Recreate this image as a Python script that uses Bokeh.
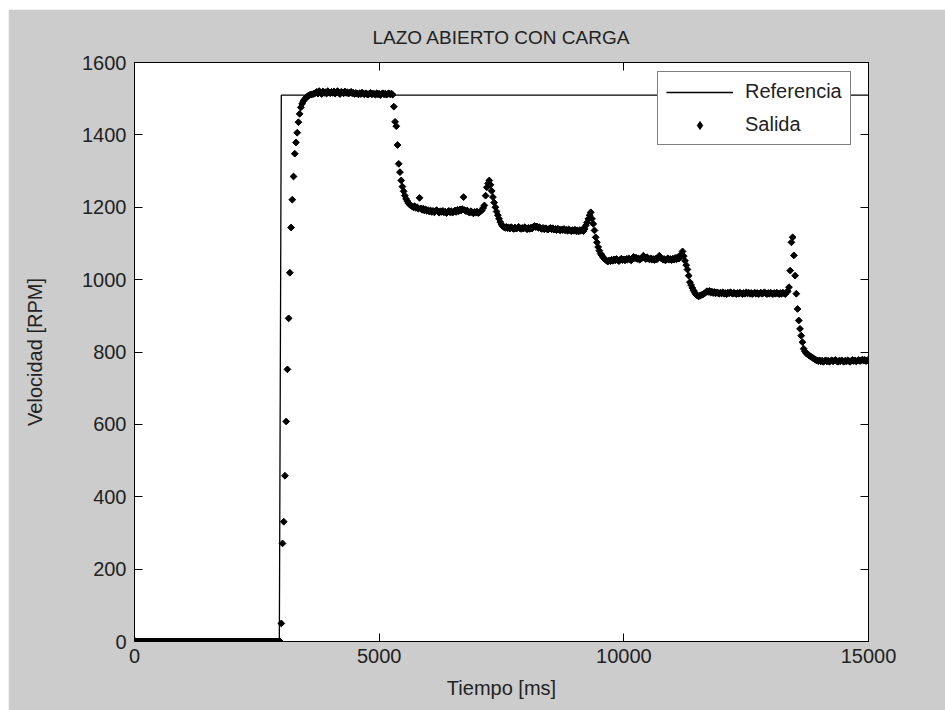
import numpy as np
from bokeh.plotting import figure
from bokeh.models import Range1d, LinearAxis, FixedTicker, Legend, LegendItem
from bokeh.embed import file_html
from bokeh.resources import INLINE

# ---------------- data ----------------
title_text = "LAZO ABIERTO CON CARGA"
x_label = "Tiempo [ms]"
y_label = "Velocidad [RPM]"
x_ticks = [0, 5000, 10000, 15000]
y_ticks = [0, 200, 400, 600, 800, 1000, 1200, 1400, 1600]

# Referencia (step)
ref_t = [0, 2960, 3000, 15000]
ref_rpm = [0, 0, 1510, 1510]

# Salida: measured speed, one sample every 25 ms, given per segment (start ms, values)
sample_ms = 25

out_reposo_start = 0
out_reposo = [
    0, 0, 0, 0, 0, 0, 0, 0, 0, 0,
    0, 0, 0, 0, 0, 0, 0, 0, 0, 0,
    0, 0, 0, 0, 0, 0, 0, 0, 0, 0,
    0, 0, 0, 0, 0, 0, 0, 0, 0, 0,
    0, 0, 0, 0, 0, 0, 0, 0, 0, 0,
    0, 0, 0, 0, 0, 0, 0, 0, 0, 0,
    0, 0, 0, 0, 0, 0, 0, 0, 0, 0,
    0, 0, 0, 0, 0, 0, 0, 0, 0, 0,
    0, 0, 0, 0, 0, 0, 0, 0, 0, 0,
    0, 0, 0, 0, 0, 0, 0, 0, 0, 0,
    0, 0, 0, 0, 0, 0, 0, 0, 0, 0,
    0, 0, 0, 0, 0, 0, 0, 0, 0, 0,
]

out_arranque_start = 3000
out_arranque = [
    50, 271, 331, 458, 608, 752, 893, 1019, 1144, 1221,
    1285, 1348, 1379, 1406, 1435, 1458, 1476, 1486, 1493, 1498,
    1502, 1505, 1508, 1510, 1511, 1512, 1513, 1514,
]

out_meseta_start = 3700
out_meseta = [
    1516, 1519, 1514, 1521, 1517, 1513, 1520, 1516,
    1518, 1514, 1521, 1517, 1515, 1519, 1516, 1520,
    1514, 1518, 1521, 1516, 1513, 1519, 1517, 1515,
    1520, 1516, 1518, 1514, 1517, 1519, 1515, 1516,
    1513, 1516, 1514, 1512, 1515, 1513, 1517, 1514,
    1512, 1515, 1513, 1511, 1514, 1516, 1512, 1514,
    1513, 1511, 1515, 1512, 1514, 1510, 1513, 1515,
    1512, 1514, 1511, 1513, 1515, 1512, 1514, 1511,
]

out_carga1_start = 5300
out_carga1 = [
    1478, 1436, 1424, 1372, 1320, 1297, 1274, 1257, 1244, 1232,
    1223, 1217, 1211, 1207, 1205, 1202, 1200, 1203, 1198, 1200,
    1196, 1226, 1197, 1193, 1196, 1191, 1194, 1190, 1192, 1188,
    1191, 1187, 1190, 1186, 1189, 1192, 1188, 1185, 1189, 1187,
    1190, 1186, 1188, 1184, 1187, 1190, 1186, 1189, 1185, 1188,
    1191, 1187, 1193, 1189, 1194, 1191, 1195, 1228, 1192, 1189,
    1191, 1187, 1185, 1189, 1186, 1183, 1187, 1185, 1188, 1184,
    1186, 1189, 1192, 1198,
]

out_carga2_start = 7150
out_carga2 = [
    1205, 1232, 1255, 1266, 1274, 1262, 1245, 1228, 1213, 1200,
    1188, 1178, 1168, 1159, 1152, 1148, 1145, 1143, 1146, 1142,
    1144, 1141, 1145, 1142, 1140, 1144, 1141, 1143, 1146, 1142,
    1140, 1143, 1141, 1145, 1142, 1139, 1143, 1140, 1144, 1141,
    1146, 1148, 1145, 1147, 1143, 1145, 1142, 1140, 1143, 1139,
    1142, 1140, 1138, 1141, 1143, 1139, 1142, 1138, 1140, 1137,
    1141, 1138, 1136, 1139, 1137, 1140, 1136, 1138, 1135, 1139,
    1136, 1134, 1137, 1135, 1138, 1134, 1136, 1133, 1137, 1135,
    1138, 1134,
]

out_carga3_start = 9200
out_carga3 = [
    1140, 1150, 1158, 1168, 1178, 1186, 1168, 1154, 1136, 1117,
    1103, 1090, 1080, 1072, 1067, 1062, 1058, 1055, 1052, 1050,
    1053, 1051, 1055, 1052, 1056, 1053, 1057, 1054, 1051, 1055,
    1058, 1054, 1056, 1053, 1057, 1055, 1059, 1056, 1053, 1057,
    1063, 1059, 1061, 1057, 1059, 1055, 1058, 1060, 1066, 1060,
    1057, 1062, 1058, 1056, 1059, 1055, 1057, 1054, 1058, 1056,
    1060, 1066, 1061, 1058, 1055, 1057, 1053, 1056, 1059, 1055,
    1057, 1054, 1058, 1055, 1060, 1056, 1062, 1058, 1064,
]

out_carga4_start = 11175
out_carga4 = [
    1070, 1078, 1065, 1052, 1040, 1028, 1011, 993, 985, 977,
    970, 964, 959, 956, 954, 955, 957, 958, 960, 962,
    965, 968, 966, 969, 964, 967, 963, 966, 962, 965,
    963, 961, 964, 962, 965, 961, 963, 960, 964, 962,
    965, 963, 961, 964, 962, 960, 963, 961, 964, 962,
    960, 963, 961, 965, 962, 964, 961, 963, 960, 962,
    964, 961, 963, 960, 962, 964, 961, 963, 965, 962,
    960, 963, 961, 964, 962, 960, 963, 961, 964, 962,
    960, 963, 961, 964, 962, 960, 965, 968,
]

out_carga5_start = 13375
out_carga5 = [
    979, 1025, 1103, 1117, 1067, 1011, 961, 919, 887, 864,
    845, 827, 809, 802, 797, 794, 791, 789, 787, 785,
    782, 780, 778, 776, 775, 777, 774, 776, 773, 775,
    777, 774, 776, 773, 775, 777, 774, 776, 778, 775,
    773, 776, 774, 777, 775, 773, 776, 774, 777, 775,
    773, 776, 778, 775, 777, 774, 776, 778, 775, 777,
    779, 776, 778, 775, 777, 779,
]

segments = [
    (out_reposo_start, out_reposo),
    (out_arranque_start, out_arranque),
    (out_meseta_start, out_meseta),
    (out_carga1_start, out_carga1),
    (out_carga2_start, out_carga2),
    (out_carga3_start, out_carga3),
    (out_carga4_start, out_carga4),
    (out_carga5_start, out_carga5),
]
out_t = []
out_rpm = []
for start, vals in segments:
    out_t.extend(start + sample_ms * k for k in range(len(vals)))
    out_rpm.extend(vals)

# ---------------- figure ----------------
FONT = "Liberation Sans"
TXT = "#222222"
GREY = "#cccccc"

p = figure(
    width=937, height=701,
    x_range=Range1d(0, 15000), y_range=Range1d(0, 1600),
    output_backend="svg", toolbar_location=None,
    min_border_left=126, min_border_right=77,
    min_border_top=53, min_border_bottom=69,
    background_fill_color="white", border_fill_color=GREY,
    outline_line_color="black", outline_line_width=1,
)
p.margin = (9, 0, 0, 8)

bottom_ax = p.below[0]
left_ax = p.left[0]

p.title.text = title_text
p.title.align = "center"
p.title.text_font = FONT
p.title.text_font_style = "normal"
p.title.text_font_size = "19px"
p.title.text_color = TXT
p.title.standoff = 29

p.grid.visible = False

r_ref = p.line(ref_t, ref_rpm, line_color="black", line_width=1.3)
r_out = p.scatter(out_t, out_rpm, marker="square", angle=np.pi / 4, size=4.8,
                  fill_color="black", line_color="black", line_width=1)
# legend swatch for the dots: repeats the first sample (hidden under the band)
r_out_key = p.scatter(x=out_t[:1], y=out_rpm[:1], marker="diamond", size=9,
                      fill_color="black", line_color="black", line_width=1)

# mirrored axes (ticks only) on top and right
top_ax = LinearAxis(ticker=FixedTicker(ticks=x_ticks))
right_ax = LinearAxis(ticker=FixedTicker(ticks=y_ticks))
for ax in (top_ax, right_ax):
    ax.major_label_text_font_size = "0px"
    ax.major_label_text_color = None
    ax.major_label_standoff = 0
p.add_layout(top_ax, "above")
p.add_layout(right_ax, "right")

bottom_ax.ticker = FixedTicker(ticks=x_ticks)
left_ax.ticker = FixedTicker(ticks=y_ticks)
bottom_ax.axis_label = x_label
left_ax.axis_label = y_label

for ax in (bottom_ax, left_ax, top_ax, right_ax):
    ax.major_tick_in = 8
    ax.major_tick_out = 0
    ax.minor_tick_line_color = None
    ax.axis_line_color = "black"
    ax.major_tick_line_color = "black"
    ax.major_label_text_font = FONT

for ax in (bottom_ax, left_ax):
    ax.major_label_text_font_size = "20px"
    ax.major_label_text_color = TXT
    ax.axis_label_text_font = FONT
    ax.axis_label_text_font_style = "normal"
    ax.axis_label_text_font_size = "20px"
    ax.axis_label_text_color = TXT

bottom_ax.major_label_standoff = 7
bottom_ax.axis_label_standoff = 11
left_ax.major_label_standoff = 8
left_ax.axis_label_standoff = 33

legend = Legend(
    items=[LegendItem(label="Referencia", renderers=[r_ref]),
           LegendItem(label="Salida", renderers=[r_out_key])],
    location=(523, 496),
    label_text_font=FONT, label_text_font_size="20px", label_text_color=TXT,
    glyph_width=67, glyph_height=20, label_height=20,
    spacing=10, padding=8, label_standoff=12, margin=0,
    border_line_color="black", border_line_width=1,
    background_fill_color="white", background_fill_alpha=1.0,
)
p.add_layout(legend)

open("out.html", "w").write(file_html(p, INLINE))
